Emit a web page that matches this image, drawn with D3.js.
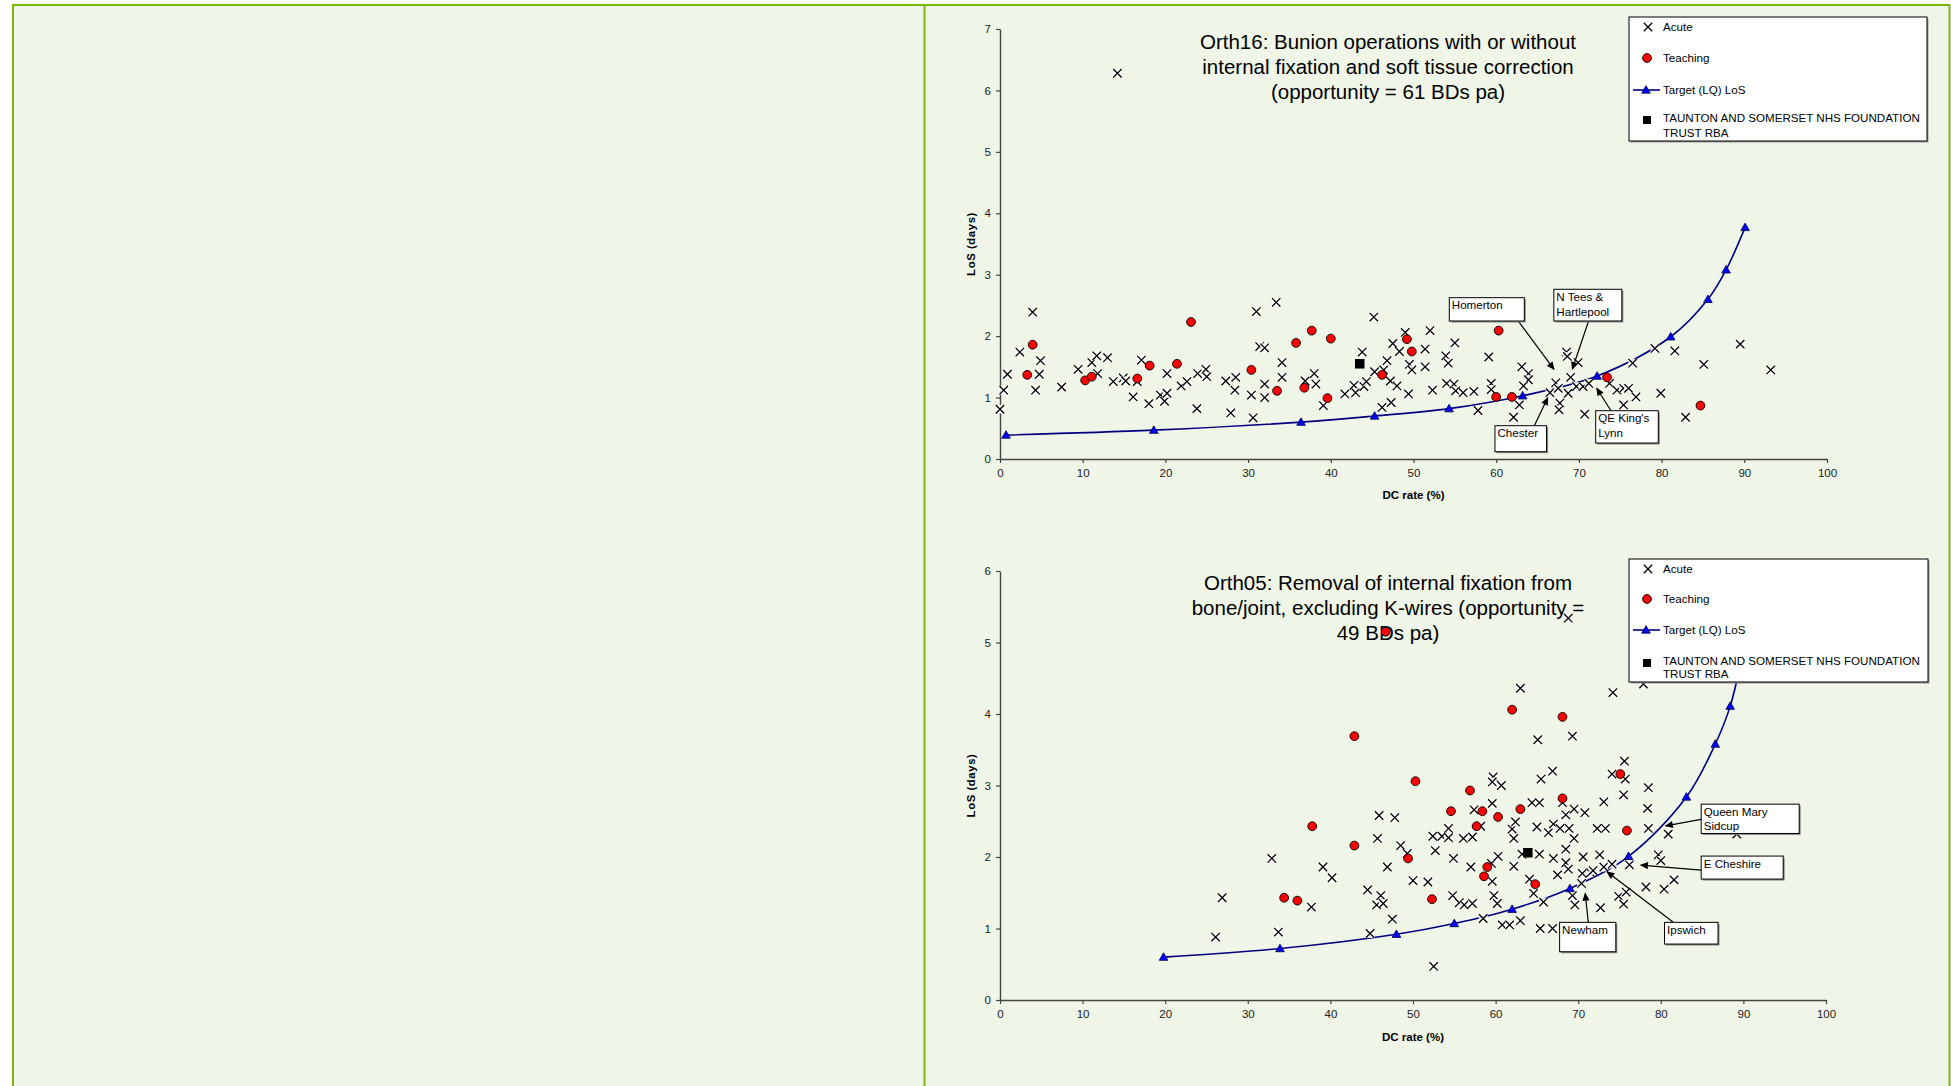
<!DOCTYPE html>
<html><head><meta charset="utf-8">
<script src="https://cdn.jsdelivr.net/npm/d3@7"></script>
<style>
body{margin:0;background:#fff}
svg{display:block}
text{font-family:"Liberation Sans",Arial,Helvetica,sans-serif}
</style>
</head><body>
<svg id="c" width="1951" height="1086"></svg>
<script>
// ---------------- DATA ----------------
const xTicks = [0,10,20,30,40,50,60,70,80,90,100];
const yTicksOrth16 = [0,1,2,3,4,5,6,7];
const yTicksOrth05 = [0,1,2,3,4,5,6];
const seriesNames = ["Acute","Teaching","Target (LQ) LoS","TAUNTON AND SOMERSET NHS FOUNDATION","TRUST RBA"];
const titleOrth16 = ["Orth16: Bunion operations with or without","internal fixation and soft tissue correction","(opportunity = 61 BDs pa)"];
const titleOrth05 = ["Orth05: Removal of internal fixation from","bone/joint, excluding K-wires (opportunity =","49 BDs pa)"];
const xAxisTitle = "DC rate (%)";
const yAxisTitle = "LoS (days)";

// [DC rate %, LoS days]
const orth16Acute = [
[0,0.81],[0.45,1.12],[0.9,1.38],[2.4,1.74],[3.95,2.39],[4.3,1.12],[4.75,1.38],[4.9,1.60],[7.45,1.17],[9.45,1.46],
[11.1,1.57],[11.7,1.68],[13.0,1.65],[11.8,1.39],[13.7,1.26],[14.9,1.32],[15.2,1.27],[16.6,1.26],[17.1,1.61],[16.1,1.01],
[18.0,0.90],[19.4,1.04],[19.9,0.94],[20.2,1.07],[20.2,1.39],[21.9,1.19],[22.6,1.26],[23.8,0.82],[23.9,1.39],[24.9,1.46],
[25.0,1.34],[27.3,1.27],[28.5,1.33],[28.4,1.12],[27.9,0.75],[30.4,1.04],[30.6,0.67],[31.0,2.40],[31.4,1.83],[32.0,1.81],
[33.4,2.55],[32.0,1.22],[32.0,1.00],[34.1,1.57],[34.1,1.33],[36.9,1.27],[38.0,1.39],[38.2,1.22],[39.1,0.87],[41.7,1.06],
[42.8,1.20],[43.0,1.08],[43.8,1.74],[44.0,1.18],[44.3,1.26],[45.2,2.31],[45.3,1.42],[46.2,0.84],[46.4,1.45],[46.8,1.60],
[47.2,1.27],[47.3,0.92],[47.5,1.88],[48.0,1.19],[48.3,1.75],[49.0,2.06],[49.5,1.54],[49.4,1.06],[49.8,1.45],
[52.0,2.09],[51.4,1.79],[55.0,1.89],[53.9,1.68],[54.2,1.56],[51.4,1.50],[59.1,1.66],[52.3,1.12],[54.0,1.23],[54.9,1.22],
[55.1,1.11],[56.0,1.08],[57.3,1.10],[59.4,1.23],[59.4,1.13],[57.8,0.79],[63.1,1.50],[63.9,1.39],[63.9,1.29],[63.3,1.19],
[62.8,0.88],[62.1,0.68],[67.2,1.24],[66.5,1.08],[67.5,1.15],[67.7,0.91],[67.6,0.80],[68.5,1.74],[68.6,1.67],[69.9,1.57],
[69.0,1.33],[68.7,1.07],[69.7,1.18],[70.5,1.18],[71.2,1.23],[70.7,0.73],[73.7,1.23],[74.6,1.12],[75.4,1.15],[76.0,1.15],
[76.9,1.01],[75.4,0.88],[76.5,1.56],[79.2,1.80],[81.6,1.76],[79.9,1.07],[85.1,1.54],[82.9,0.68],[89.5,1.87],[93.2,1.45],
[14.2,6.28]
];
const orth16Teaching = [
[3.3,1.37],[3.95,1.86],[10.3,1.28],[11.1,1.34],[16.6,1.31],[18.1,1.52],[21.4,1.55],[23.1,2.23],[30.4,1.45],[33.5,1.11],
[35.8,1.89],[36.8,1.16],[37.7,2.09],[39.6,0.99],[40.0,1.96],[46.2,1.37],[49.2,1.95],[49.8,1.75],[60.3,2.09],[60.0,1.01],
[61.9,1.01],[73.4,1.33],[84.7,0.87]
];
const orth16Target = [
[0.73,0.39],[18.6,0.47],[36.4,0.60],[45.3,0.70],[54.3,0.82],[63.2,1.03],[72.2,1.35],[81.1,1.99],[85.6,2.60],[87.8,3.08],[90.1,3.77]
];
const orth16Trust = [[43.5,1.55]];

const orth05Acute = [
[26.1,0.88],[26.9,1.43],[32.9,1.98],[33.7,0.95],[37.7,1.30],[39.1,1.86],[40.2,1.71],[44.5,1.54],[45.9,2.58],[45.7,2.26],
[47.8,2.55],[46.1,1.46],[45.6,1.33],[46.4,1.35],[44.8,0.93],[47.5,1.13],[48.5,2.16],[49.3,2.05],[46.9,1.86],[50.0,1.67],
[51.8,1.65],[52.5,0.47],[52.4,2.29],[53.5,2.29],[54.3,2.40],[54.3,2.27],[52.7,2.09],[54.9,1.98],[56.1,2.26],[57.2,2.28],
[57.4,2.66],[58.2,2.43],[57.0,1.86],[54.8,1.46],[55.6,1.36],[56.2,1.33],[57.2,1.35],[59.6,2.75],[59.7,3.12],[59.6,3.05],
[60.7,3.00],[58.5,1.14],[59.5,1.91],[60.3,2.01],[59.6,1.66],[59.8,1.46],[60.2,1.35],[60.8,1.05],[61.7,1.05],[63.0,1.11],
[62.0,2.39],[62.2,2.26],[62.4,2.49],[62.2,1.87],[64.1,1.69],[64.6,1.49],[65.8,1.37],[63.0,4.36],[65.1,3.64],[65.4,1.00],
[66.9,1.00],[64.4,2.76],[65.3,2.76],[65.5,3.09],[66.9,3.20],[65.0,2.42],[65.3,2.04],[63.2,2.04],[66.4,2.34],[67.0,2.46],
[68.1,2.76],[68.5,2.59],[67.8,2.40],[68.9,2.40],[69.5,2.67],[69.5,2.26],[70.8,2.62],[67.0,1.98],[68.5,2.11],[68.5,1.92],
[68.8,1.83],[67.5,1.75],[70.6,2.00],[70.5,1.77],[71.5,1.78],[69.3,1.46],[69.6,1.33],[70.4,1.63],[68.8,5.34],[69.3,3.69],
[73.1,2.77],[72.3,2.40],[73.3,2.40],[72.6,2.03],[73.1,1.86],[74.1,1.90],[72.7,1.29],[74.2,4.30],[74.1,3.16],[75.6,3.34],
[75.7,3.09],[75.5,2.87],[74.9,1.45],[75.5,1.34],[75.8,1.51],[76.2,1.89],[78.5,2.97],[78.4,2.68],[78.5,2.40],[77.9,4.42],
[80.9,2.32],[79.7,2.03],[80.0,1.95],[78.2,1.58],[80.4,1.55],[81.6,1.68],[89.2,2.32],[71.8,1.81]
];
const orth05Teaching = [
[42.9,3.69],[37.8,2.43],[42.9,2.16],[34.4,1.43],[36.0,1.39],[50.3,3.06],[49.4,1.98],[52.3,1.41],[54.6,2.64],[56.9,2.93],
[58.4,2.64],[57.7,2.43],[60.3,2.56],[59.0,1.86],[58.6,1.73],[62.0,4.06],[63.0,2.67],[64.8,1.62],[68.1,3.96],[68.1,2.82],
[75.1,3.16],[75.9,2.37],[46.7,5.15]
];
const orth05Target = [
[19.8,0.60],[33.9,0.72],[48.0,0.92],[55.0,1.07],[62.0,1.27],[69.0,1.56],[76.1,2.01],[83.1,2.84],[86.6,3.58],[88.4,4.11],[90.2,5.0]
];
const orth05Trust = [[63.9,2.06]];

// annotation labels: box anchor [DC, LoS], arrow from/to [DC, LoS]
const orth16Notes = [
 {lines:["Homerton"], box:[54.33,2.626], w:75, h:23.3, from:[62.67,2.246], to:[66.99,1.46]},
 {lines:["N Tees &","Hartlepool"], box:[66.97,2.763], w:68, h:31.7, from:[71.14,2.235], to:[69.2,1.46]},
 {lines:["Chester"], box:[59.85,0.542], w:51.6, h:26, from:[64.61,0.542], to:[66.23,0.998]},
 {lines:["QE King's","Lynn"], box:[72.03,0.786], w:62.6, h:32.3, from:[73.88,0.786], to:[72.15,1.151]}
];
const orth05Notes = [
 {lines:["Queen Mary","Sidcup"], box:[84.89,2.739], w:98, h:29.3, from:[84.89,2.526], to:[80.58,2.436]},
 {lines:["E Cheshire"], box:[84.89,2.013], w:82, h:23, from:[84.89,1.817], to:[77.57,1.887]},
 {lines:["Newham"], box:[67.75,1.086], w:56.2, h:29.4, from:[71.22,1.086], to:[70.85,1.491]},
 {lines:["Ipswich"], box:[80.45,1.086], w:53.5, h:21.7, from:[81.51,1.086], to:[73.49,1.793]}
];

// ---------------- DRAW ----------------
const FONT = '"Liberation Sans",Arial,Helvetica,sans-serif';
const svg = d3.select('#c');
svg.append('rect').attr('x',13).attr('y',5).attr('width',1936.5).attr('height',1100)
  .attr('fill','#EFF5E7').attr('stroke','#7AB800').attr('stroke-width',2);
svg.append('line').attr('x1',924.5).attr('x2',924.5).attr('y1',5).attr('y2',1086)
  .attr('stroke','#7AB800').attr('stroke-width',2);

const defs = svg.append('defs');
defs.append('marker').attr('id','arrow').attr('viewBox','0 0 10 10').attr('refX',9).attr('refY',5)
  .attr('markerUnits','userSpaceOnUse').attr('markerWidth',9).attr('markerHeight',8).attr('orient','auto')
  .append('path').attr('d','M0,0.5L10,5L0,9.5z').attr('fill','#000');

function xMark(g, x, y){
  g.append('rect').attr('x',x-4.5).attr('y',y-4.5).attr('width',9).attr('height',9).attr('fill','#fff').attr('opacity',0.85);
  g.append('path').attr('d',`M${x-4.2},${y-4.2}L${x+4.2},${y+4.2}M${x-4.2},${y+4.2}L${x+4.2},${y-4.2}`)
    .attr('stroke','#000').attr('stroke-width',1.3).attr('fill','none');
}
function circ(g,x,y){ g.append('circle').attr('cx',x).attr('cy',y).attr('r',4.4).attr('fill','#FF0000').attr('stroke','#000').attr('stroke-width',0.9); }
function tri(g,x,y){ g.append('path').attr('d',`M${x},${y-4.3}L${x+4.3},${y+3.2}L${x-4.3},${y+3.2}Z`).attr('fill','#0000FF').attr('stroke','#000040').attr('stroke-width',0.8); }
function sq(g,x,y,s){ g.append('rect').attr('x',x-s/2).attr('y',y-s/2).attr('width',s).attr('height',s).attr('fill','#000'); }

function drawChart(cfg){
  const g = svg.append('g');
  const x = d3.scaleLinear().domain([0,100]).range([cfg.left,cfg.right]);
  const y = d3.scaleLinear().domain([0,cfg.yMax]).range([cfg.bottom,cfg.top]);

  // axes
  const ya = g.append('g').attr('transform',`translate(${cfg.left},0)`)
    .call(d3.axisLeft(y).tickValues(cfg.yTicks).tickSize(4).tickSizeOuter(0).tickPadding(5).tickFormat(d3.format('d')));
  const xa = g.append('g').attr('transform',`translate(0,${cfg.bottom})`)
    .call(d3.axisBottom(x).tickValues(xTicks).tickSize(4).tickSizeOuter(0).tickPadding(6).tickFormat(d3.format('d')));
  [ya,xa].forEach(a=>{
    a.select('.domain').attr('stroke','#444').attr('stroke-width',1.4);
    a.selectAll('.tick line').attr('stroke','#444').attr('stroke-width',1.2);
    a.selectAll('.tick text').attr('fill','#222').style('font-size','11.5px').style('font-family',FONT);
  });

  g.append('text').attr('x',(cfg.left+cfg.right)/2).attr('y',cfg.xTitleY).attr('text-anchor','middle')
    .style('font-size','11.5px').style('font-weight','bold').text(xAxisTitle);
  g.append('text').attr('transform',`translate(${cfg.yTitleX},${(cfg.top+cfg.bottom)/2}) rotate(-90)`)
    .attr('text-anchor','middle').style('font-size','11.3px').style('font-weight','bold').style('letter-spacing','0.6px').text(yAxisTitle);

  // title
  cfg.title.forEach((t,i)=>{
    g.append('text').attr('x',1388).attr('y',cfg.titleY + i*25).attr('text-anchor','middle')
      .style('font-size','20.5px').attr('fill','#000').text(t);
  });

  // target line
  const line = d3.line().x(d=>x(d[0])).y(d=>y(d[1])).curve(d3.curveCatmullRom.alpha(0.5));
  g.append('path').datum(cfg.target).attr('d',line).attr('fill','none').attr('stroke','#000080').attr('stroke-width',1.6);

  const mk = g.append('g');
  cfg.acute.forEach(d=>xMark(mk,x(d[0]),y(d[1])));
  cfg.teaching.forEach(d=>circ(mk,x(d[0]),y(d[1])));
  cfg.target.forEach(d=>tri(mk,x(d[0]),y(d[1])));
  cfg.trust.forEach(d=>sq(mk,x(d[0]),y(d[1]),9.5));

  // legend
  const L = cfg.legend;
  const lg = g.append('g');
  lg.append('rect').attr('x',L.x+1.5).attr('y',L.y+1.5).attr('width',L.w).attr('height',L.h).attr('fill','#9a9a9a');
  lg.append('rect').attr('x',L.x).attr('y',L.y).attr('width',L.w).attr('height',L.h).attr('fill','#fff').attr('stroke','#000').attr('stroke-width',1);
  const mx = L.x+18, tx = L.x+34;
  xMark(lg, mx+1, L.y+L.rows[0]);
  circ(lg, mx, L.y+L.rows[1]);
  lg.append('line').attr('x1',L.x+4).attr('x2',L.x+31).attr('y1',L.y+L.rows[2]).attr('y2',L.y+L.rows[2]).attr('stroke','#000080').attr('stroke-width',1.6);
  tri(lg, mx-1, L.y+L.rows[2]);
  sq(lg, mx, L.y+L.rows[3]+2, 8);
  [0,1,2,3].forEach(i=>{
    lg.append('text').attr('x',tx).attr('y',L.y+L.rows[i]+4).style('font-size','11.6px').text(seriesNames[i]);
  });
  lg.append('text').attr('x',tx).attr('y',L.y+L.rows[3]+L.line2+4).style('font-size','11.6px').text(seriesNames[4]);

  // annotations
  const an = g.append('g');
  cfg.notes.forEach(n=>{
    const bx = x(n.box[0]), by = y(n.box[1]);
    an.append('line').attr('x1',x(n.from[0])).attr('y1',y(n.from[1])).attr('x2',x(n.to[0])).attr('y2',y(n.to[1]))
      .attr('stroke','#000').attr('stroke-width',1.2).attr('marker-end','url(#arrow)');
    an.append('rect').attr('x',bx+1.5).attr('y',by+1.5).attr('width',n.w).attr('height',n.h).attr('fill','#8a8a8a');
    an.append('rect').attr('x',bx).attr('y',by).attr('width',n.w).attr('height',n.h).attr('fill','#fff').attr('stroke','#000').attr('stroke-width',1);
    n.lines.forEach((t,i)=>{
      an.append('text').attr('x',bx+2.5).attr('y',by+11.5+i*cfg.noteLH).style('font-size','11.6px').text(t);
    });
  });
}

drawChart({left:1000,right:1827,top:29,bottom:459,yMax:7,yTicks:yTicksOrth16,
  xTitleY:499, yTitleX:975, title:titleOrth16, titleY:49,
  acute:orth16Acute, teaching:orth16Teaching, target:orth16Target, trust:orth16Trust,
  legend:{x:1629,y:17,w:298,h:124,rows:[10,41,73,101],line2:15},
  notes:orth16Notes, noteLH:15});

drawChart({left:1000,right:1826,top:571,bottom:1000,yMax:6,yTicks:yTicksOrth05,
  xTitleY:1041, yTitleX:975, title:titleOrth05, titleY:589.5,
  acute:orth05Acute, teaching:orth05Teaching, target:orth05Target, trust:orth05Trust,
  legend:{x:1629,y:559,w:299,h:123,rows:[10,40,71,102],line2:13},
  notes:orth05Notes, noteLH:14});
</script>
</body></html>
